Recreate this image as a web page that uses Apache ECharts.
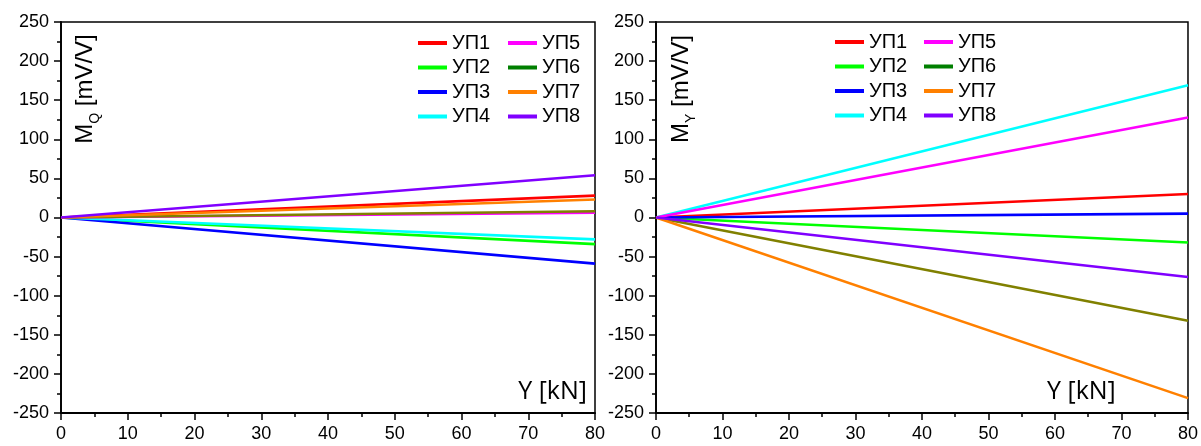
<!DOCTYPE html>
<html><head><meta charset="utf-8">
<script src="https://cdn.jsdelivr.net/npm/echarts@6/dist/echarts.min.js"></script>
<style>html,body{margin:0;padding:0;background:#fff}#c{width:1201px;height:446px}</style>
</head><body><div id="c"></div>
<script>
const names = ['УП1','УП2','УП3','УП4','УП5','УП6','УП7','УП8'];
const lineColors = ['#FF0000','#00FF00','#0000FF','#00FFFF','#FF00FF','#808000','#FF8000','#8000FF'];
const legendColors = ['#FF0000','#00FF00','#0000FF','#00FFFF','#FF00FF','#007F00','#FF8000','#8000FF'];
const loadX = [0, 80];
// M_Q values at Y = 0 and 80 kN
const mQ = {
  'УП1': [0, 28], 'УП2': [0, -34], 'УП3': [0, -59], 'УП4': [0, -28],
  'УП5': [0, 6],  'УП6': [0, 8],   'УП7': [0, 23],  'УП8': [0, 54]
};
// M_Y values at Y = 0 and 80 kN
const mY = {
  'УП1': [0, 30], 'УП2': [0, -32], 'УП3': [0, 5], 'УП4': [0, 169],
  'УП5': [0, 128], 'УП6': [0, -132], 'УП7': [0, -231], 'УП8': [0, -76]
};
const xTicks = {min: 0, max: 80, interval: 10};
const yTicks = {min: -250, max: 250, interval: 50};

const chart = echarts.init(document.getElementById('c'));
const font = 'Liberation Sans, Arial, sans-serif';
const grids = [
  {left: 61, top: 22, width: 534, height: 391},
  {left: 656, top: 22, width: 532, height: 391}
];
function xAxis(i){ return {type:'value', gridIndex:i, min:xTicks.min, max:xTicks.max, interval:xTicks.interval,
  axisLine:{onZero:false, lineStyle:{color:'#000', width:1.8}},
  axisTick:{length:7, lineStyle:{color:'#000', width:1.5}},
  minorTick:{show:true, splitNumber:2, length:4, lineStyle:{color:'#000', width:1.5}},
  splitLine:{show:false},
  axisLabel:{color:'#000', fontFamily:font, fontSize:18, margin:12}}; }
function yAxis(i){ return {type:'value', gridIndex:i, min:yTicks.min, max:yTicks.max, interval:yTicks.interval,
  axisLine:{show:true, onZero:false, lineStyle:{color:'#000', width:1.8}},
  axisTick:{show:true, length:7, lineStyle:{color:'#000', width:1.5}},
  minorTick:{show:true, splitNumber:2, length:4, lineStyle:{color:'#000', width:1.5}},
  splitLine:{show:false},
  axisLabel:{color:'#000', fontFamily:font, fontSize:18, margin:12}}; }

const series = [];
[mQ, mY].forEach((src, gi) => {
  names.forEach((n, k) => {
    series.push({type:'line', name:n, xAxisIndex:gi, yAxisIndex:gi, symbol:'none', silent:true,
      lineStyle:{color:lineColors[k], width:2.6}, itemStyle:{color:lineColors[k]},
      data: loadX.map((x, j) => [x, src[n][j]])});
  });
});
function legend(left, top, idxs){ return {show:true, orient:'vertical', left:left, top:top, padding:0,
  itemGap:4.5, itemWidth:29, itemHeight:4, icon:'rect',
  textStyle:{color:'#000', fontFamily:font, fontSize:20, lineHeight:20},
  data: idxs.map(k => ({name:names[k], itemStyle:{color:legendColors[k]}}))}; }

const yTitle = (x) => ({type:'text', x:x, y:89, rotation:Math.PI/2,
  style:{text:'{m|M}{s|Q}{m| [mV/V]}', align:'center', verticalAlign:'middle', fill:'#000',
   rich:{m:{fontFamily:font, fontSize:24, fill:'#000', verticalAlign:'bottom'},
         s:{fontFamily:font, fontSize:14, fill:'#000', verticalAlign:'bottom', padding:[0,0,-5,0]}}}});
const yTitle2 = (x) => ({type:'text', x:x, y:89, rotation:Math.PI/2,
  style:{text:'{m|M}{s|Y}{m| [mV/V]}', align:'center', verticalAlign:'middle', fill:'#000',
   rich:{m:{fontFamily:font, fontSize:24, fill:'#000', verticalAlign:'bottom'},
         s:{fontFamily:font, fontSize:14, fill:'#000', verticalAlign:'bottom', padding:[0,0,-5,0]}}}});

chart.setOption({
  animation:false,
  backgroundColor:'#fff',
  grid: grids.map(g => Object.assign({show:true, borderColor:'#000', borderWidth:1.5, backgroundColor:'transparent'}, g)),
  xAxis:[xAxis(0), xAxis(1)],
  yAxis:[yAxis(0), yAxis(1)],
  legend:[legend(418,33,[0,1,2,3]), legend(508,33,[4,5,6,7]), legend(835,32,[0,1,2,3]), legend(924,32,[4,5,6,7])],
  series: series,
  graphic:[
    yTitle(85), yTitle2(681),
    {type:'text', x:587, y:392, style:{text:'Y [kN]', align:'right', verticalAlign:'middle', fill:'#000', fontFamily:'Open Sans', fontSize:25}},
    {type:'text', x:1047, y:392, style:{text:'Y [kN]', align:'left', verticalAlign:'middle', fill:'#000', fontFamily:'Open Sans', fontSize:25}}
  ]
});
</script></body></html>
